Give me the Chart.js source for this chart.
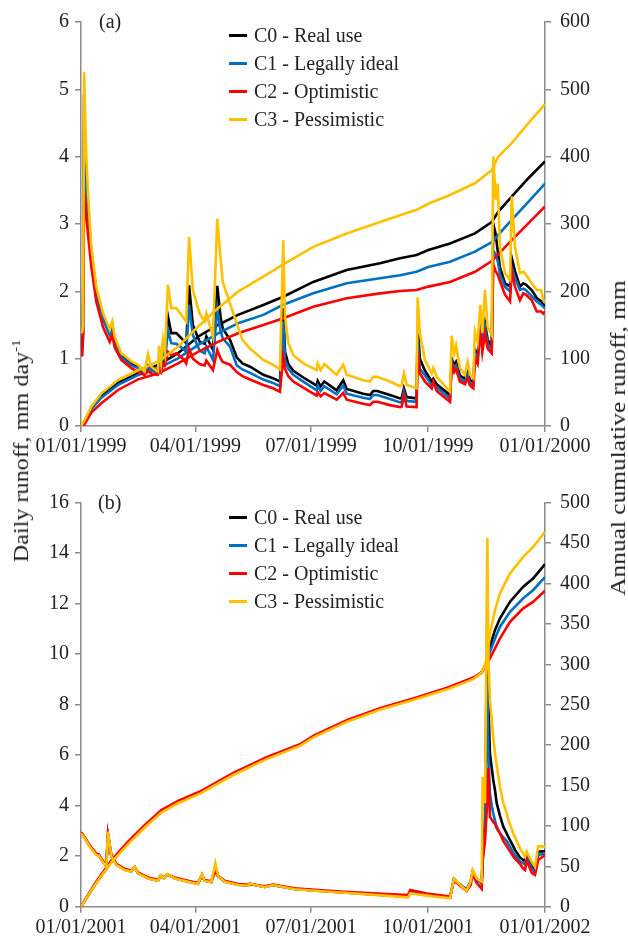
<!DOCTYPE html>
<html>
<head>
<meta charset="utf-8">
<script src="https://cdn.jsdelivr.net/npm/chart.js@4.4.0/dist/chart.umd.min.js"></script>
<style>
  body { margin: 0; background: #fff; }
  #wrap { position: relative; width: 628px; height: 939px; overflow: hidden;
          font-family: "Liberation Serif", "Times New Roman", serif; color: #222; }
  canvas { position: absolute; left: 0; }
  .lg { position: absolute; left: 229px; height: 28px; display: flex; align-items: center;
        font-size: 20px; white-space: nowrap; }
  .lg i { display: inline-block; width: 18px; height: 3px; margin-right: 7px; }
  .tag { position: absolute; font-size: 20px; line-height: 20px; }
  .ttl { position: absolute; font-size: 20px; line-height: 24px; white-space: nowrap; }
  .ttl sup { font-size: 12px; vertical-align: 8px; line-height: 0; }
</style>
</head>
<body>
<div id="wrap">
  <canvas id="chartA" width="628" height="470" style="top:0"></canvas>
  <canvas id="chartB" width="628" height="469" style="top:470px"></canvas>
  <div class="tag" style="left:99px;top:11px">(a)</div>
  <div class="tag" style="left:98px;top:492px">(b)</div>
  <div class="ttl" style="left:21px;top:451px;transform:translate(-50%,-50%) rotate(-90deg) scaleX(1.21)">Daily runoff, mm day<sup>-1</sup></div>
  <div class="ttl" style="left:618px;top:438px;transform:translate(-50%,-50%) rotate(-90deg) scaleX(1.27)">Annual cumulative runoff, mm</div>
</div>
<script>
// legend + ticks
const seriesNames = ["C0 - Real use", "C1 - Legally ideal", "C2 - Optimistic", "C3 - Pessimistic"];
const seriesColors = ["#000000", "#0070C0", "#FF0000", "#FFC000"];
const xTickDays = [0, 90, 181, 273, 365];
const xLabelsA = ["01/01/1999", "04/01/1999", "07/01/1999", "10/01/1999", "01/01/2000"];
const xLabelsB = ["01/01/2001", "04/01/2001", "07/01/2001", "10/01/2001", "01/01/2002"];

// (a) 1999 daily runoff, mm/day (day of year)
const dayA = [0, 1, 1.6, 2.4, 3.3, 4.2, 5.5, 8.1, 12, 17.3,
  22.6, 24.6, 26.5, 31.7, 39.6, 44.8, 50, 52.7, 55.3, 60.5,
  61.4, 63, 64.5, 66, 68.4, 71, 75, 80.2, 82.8, 85,
  88, 93.3, 97.3, 98.6, 103.8, 107.2, 109.9, 111.5, 117.2, 122.5,
  127, 133, 143.4, 151, 156.5, 159.1, 160.5, 163.1, 167, 174.9,
  185.4, 186.2, 188.5, 191.4, 201.1, 206.3, 209, 222, 227.3, 229.9,
  233, 243, 251, 252.3, 254, 256.2, 264, 264.8, 266.6, 270.6,
  275.9, 277.1, 279.8, 290.3, 291.6, 293.6, 295, 298.1, 302, 304.2,
  306, 308.6, 309.9, 312, 314.1, 315.7, 317.8, 319.9, 323.1, 324.3,
  326.2, 327.8, 329.6, 333.5, 337.5, 338.8, 341.4, 345.3, 347.9, 350,
  354.5, 358.5, 362, 363.6, 365];
const c0DailyA = [1.20, 1.25, 1.40, 4.92, 4.10, 3.60, 3.20, 2.60, 2.02, 1.62,
  1.38, 1.50, 1.28, 1.05, 0.93, 0.88, 0.82, 0.90, 0.84, 0.80,
  0.95, 0.90, 1.10, 1.00, 1.63, 1.38, 1.38, 1.28, 1.23, 2.09,
  1.50, 1.25, 1.22, 1.33, 1.13, 2.08, 1.60, 1.45, 1.28, 1.02,
  0.93, 0.88, 0.76, 0.71, 0.66, 1.75, 1.10, 0.92, 0.82, 0.72,
  0.60, 0.67, 0.59, 0.66, 0.53, 0.68, 0.55, 0.48, 0.46, 0.52,
  0.52, 0.46, 0.41, 0.42, 0.56, 0.43, 0.41, 1.47, 1.00, 0.82,
  0.66, 0.70, 0.62, 0.46, 1.00, 0.90, 0.95, 0.75, 0.70, 0.80,
  0.68, 0.66, 1.13, 1.05, 1.57, 1.23, 1.52, 1.28, 1.18, 3.00,
  2.85, 2.60, 2.35, 2.12, 2.07, 2.50, 2.30, 2.07, 2.12, 2.10,
  2.02, 1.90, 1.85, 1.80, 1.78];
const c1DailyA = [1.10, 1.15, 1.30, 4.40, 3.70, 3.30, 3.00, 2.50, 1.97, 1.58,
  1.35, 1.45, 1.25, 1.02, 0.90, 0.86, 0.80, 0.88, 0.82, 0.80,
  0.92, 0.88, 1.23, 0.98, 1.42, 1.23, 1.22, 1.15, 1.10, 1.80,
  1.35, 1.12, 1.08, 1.18, 0.98, 1.75, 1.40, 1.30, 1.18, 0.90,
  0.84, 0.79, 0.69, 0.64, 0.59, 1.55, 0.98, 0.85, 0.76, 0.66,
  0.53, 0.60, 0.52, 0.59, 0.47, 0.60, 0.48, 0.42, 0.40, 0.46,
  0.46, 0.40, 0.35, 0.36, 0.51, 0.37, 0.36, 1.28, 0.85, 0.75,
  0.61, 0.64, 0.57, 0.41, 0.95, 0.86, 0.90, 0.70, 0.66, 0.76,
  0.64, 0.61, 1.08, 1.00, 1.52, 1.18, 1.47, 1.22, 1.13, 2.60,
  2.55, 2.45, 2.25, 2.07, 2.00, 2.35, 2.20, 2.02, 2.04, 2.02,
  1.93, 1.85, 1.80, 1.77, 1.75];
const c2DailyA = [1.05, 1.05, 1.35, 3.46, 3.30, 3.10, 2.85, 2.37, 1.85, 1.47,
  1.25, 1.35, 1.17, 0.98, 0.86, 0.80, 0.76, 0.82, 0.78, 0.76,
  0.85, 0.80, 0.92, 0.90, 1.10, 1.05, 1.08, 1.00, 0.93, 1.15,
  1.00, 0.92, 0.90, 0.97, 0.83, 1.13, 1.00, 0.95, 0.91, 0.80,
  0.74, 0.69, 0.61, 0.56, 0.51, 1.03, 0.85, 0.74, 0.66, 0.57,
  0.45, 0.50, 0.44, 0.49, 0.39, 0.49, 0.39, 0.33, 0.31, 0.36,
  0.36, 0.31, 0.28, 0.29, 0.46, 0.29, 0.28, 1.13, 0.78, 0.66,
  0.56, 0.66, 0.52, 0.36, 0.93, 0.80, 0.85, 0.66, 0.62, 0.71,
  0.60, 0.56, 1.00, 0.92, 1.43, 1.10, 1.38, 1.15, 1.08, 2.40,
  2.30, 2.25, 2.15, 1.95, 1.85, 2.30, 2.07, 1.87, 1.97, 1.95,
  1.87, 1.70, 1.70, 1.67, 1.70];
const c3DailyA = [1.38, 1.40, 1.50, 5.26, 4.60, 4.00, 3.46, 2.66, 2.07, 1.68,
  1.43, 1.55, 1.33, 1.08, 0.96, 0.91, 0.81, 1.07, 0.88, 0.81,
  1.19, 0.95, 1.28, 1.10, 2.10, 1.75, 1.75, 1.62, 1.55, 2.81,
  2.02, 1.67, 1.55, 1.67, 1.33, 3.08, 2.47, 2.14, 1.82, 1.52,
  1.28, 1.15, 0.98, 0.91, 0.84, 2.76, 1.62, 1.23, 1.05, 0.93,
  0.83, 0.93, 0.83, 0.92, 0.76, 0.91, 0.76, 0.68, 0.66, 0.73,
  0.73, 0.66, 0.59, 0.61, 0.78, 0.61, 0.56, 1.91, 1.38, 0.98,
  0.78, 0.86, 0.73, 0.51, 1.34, 1.08, 1.20, 0.86, 0.76, 0.95,
  0.76, 0.71, 1.40, 1.25, 1.80, 1.38, 2.02, 1.47, 1.35, 4.00,
  3.36, 3.60, 2.66, 2.27, 2.17, 3.41, 2.66, 2.27, 2.29, 2.25,
  2.12, 2.02, 2.02, 1.87, 1.85];

// (a) 1999 annual cumulative runoff, mm
const cumDayA = [0, 2.9, 8.1, 16, 29.1, 44.8, 60.6, 76.3, 92, 107.8,
  123.5, 143.4, 159.1, 182.7, 209, 235.2, 251, 264, 273.2, 290.3,
  309.9, 323.1, 328.2, 338.8, 351.9, 365];
const c0CumA = [0, 6.4, 26, 44, 64, 78, 90.6, 108, 132.6, 150,
  165, 179.7, 192, 214, 231.7, 241.6, 249, 254, 261.4, 271,
  286, 303, 318, 340.6, 368, 393];
const c1CumA = [0, 5.5, 25, 42, 61, 75.7, 85.7, 100.5, 120, 137.7,
  152.5, 165, 180, 197, 212, 219.4, 224, 229, 236, 244,
  259, 273, 284, 306, 333, 360];
const c2CumA = [0, 3, 20, 33.7, 53.5, 69.3, 78, 93, 110, 125,
  137.7, 150, 160, 177, 189.6, 197, 200.5, 202, 207, 214,
  229, 245, 255, 276, 301, 326];
const c3CumA = [0, 8.9, 28.7, 48.5, 68.3, 83, 95.5, 117.8, 147.5, 174.8,
  199.5, 221.7, 240, 266, 286, 303, 313, 321, 330, 343,
  360.5, 380, 400, 420, 449.6, 478];

// (b) 2001 daily runoff, mm/day
const dayB = [0, 3, 6.8, 12, 14, 16, 19.9, 21.2, 23.9, 27.8,
  34.3, 39.6, 42.2, 44.8, 52.7, 60.6, 62.7, 65, 67.9, 73.7,
  84.2, 92, 95.2, 97.3, 102.5, 105.7, 107.8, 113, 123.5, 132,
  132.7, 144.5, 151, 168, 186.4, 207.4, 233.6, 257.2, 259, 271.9,
  290.3, 293.4, 295.5, 303.4, 306.5, 308.1, 311.2, 315.2, 316, 317.8,
  319.6, 320.5, 321.7, 323.1, 324.3, 325.7, 327, 329.6, 332.2, 334.9,
  336.1, 340, 341.4, 345.3, 347.9, 349.3, 350.6, 354.5, 355.8, 357.1,
  359.7, 365];
const c0DailyB = [2.93, 2.72, 2.40, 2.07, 2.04, 1.87, 1.60, 2.90, 1.99, 1.67,
  1.47, 1.40, 1.57, 1.33, 1.13, 1.04, 1.23, 1.13, 1.28, 1.13,
  1.00, 0.91, 1.26, 1.03, 0.98, 1.60, 1.22, 1.00, 0.87, 0.84,
  0.91, 0.78, 0.86, 0.70, 0.63, 0.56, 0.48, 0.40, 0.58, 0.48,
  0.36, 1.10, 0.98, 0.68, 0.99, 1.40, 1.10, 0.93, 1.90, 3.50,
  11.5, 8.0, 6.07, 5.50, 5.02, 4.60, 4.10, 3.60, 3.17, 2.90,
  2.77, 2.40, 2.25, 1.95, 1.85, 1.80, 2.11, 1.60, 1.52, 1.39,
  2.18, 2.20];
const c1DailyB = [2.93, 2.72, 2.40, 2.07, 2.04, 1.87, 1.60, 2.85, 1.99, 1.67,
  1.47, 1.40, 1.56, 1.33, 1.13, 1.04, 1.22, 1.13, 1.27, 1.13,
  1.00, 0.91, 1.24, 1.03, 0.98, 1.50, 1.21, 1.00, 0.87, 0.84,
  0.90, 0.78, 0.85, 0.70, 0.63, 0.56, 0.48, 0.40, 0.58, 0.48,
  0.36, 1.08, 0.97, 0.66, 0.97, 1.36, 1.08, 0.93, 1.90, 3.00,
  9.0, 6.0, 4.49, 4.00, 3.70, 3.40, 3.17, 2.90, 2.75, 2.60,
  2.50, 2.15, 2.05, 1.80, 1.72, 1.68, 1.95, 1.50, 1.45, 1.35,
  2.05, 2.10];
const c2DailyB = [2.95, 2.75, 2.43, 2.10, 2.07, 1.90, 1.63, 2.85, 2.02, 1.70,
  1.50, 1.43, 1.55, 1.36, 1.16, 1.07, 1.22, 1.16, 1.27, 1.16,
  1.03, 0.94, 1.24, 1.06, 1.01, 1.40, 1.22, 1.03, 0.90, 0.87,
  0.90, 0.81, 0.88, 0.73, 0.66, 0.59, 0.52, 0.46, 0.66, 0.52,
  0.40, 1.05, 0.95, 0.62, 0.86, 1.30, 0.95, 0.71, 1.85, 2.60,
  4.20, 5.50, 3.56, 3.45, 3.35, 3.30, 3.10, 2.91, 2.60, 2.40,
  2.30, 2.00, 1.90, 1.70, 1.50, 1.45, 1.85, 1.35, 1.30, 1.26,
  1.85, 2.05];
const c3DailyB = [2.91, 2.71, 2.38, 2.05, 2.02, 1.85, 1.58, 2.97, 1.98, 1.65,
  1.45, 1.39, 1.58, 1.32, 1.12, 1.03, 1.24, 1.12, 1.29, 1.12,
  0.99, 0.90, 1.29, 1.02, 0.97, 1.72, 1.22, 0.99, 0.86, 0.83,
  0.92, 0.77, 0.86, 0.69, 0.62, 0.55, 0.46, 0.37, 0.53, 0.44,
  0.33, 1.12, 0.99, 0.63, 0.99, 1.45, 1.12, 0.99, 5.15, 4.10,
  14.6, 9.8, 8.2, 7.39, 6.70, 6.07, 5.60, 4.75, 4.10, 3.70,
  3.45, 2.91, 2.75, 2.31, 2.10, 1.98, 2.18, 1.78, 1.68, 1.58,
  2.40, 2.38];

// (b) 2001 annual cumulative runoff, mm
const cumDayB = [0, 10.8, 23.9, 37, 50.1, 63.2, 76.3, 93.6, 119.8, 146,
  172.3, 183.3, 209.5, 235.7, 262, 288.1, 309.1, 315.2, 319.4, 321.7,
  325.7, 329.6, 337.5, 347.9, 355.8, 365];
const c0CumB = [0, 26.9, 55.7, 78.5, 99, 117.6, 129, 141, 164, 183.7,
  200, 211, 230, 245, 257, 270, 283, 290, 303, 321.8,
  342.5, 357, 377.5, 396, 406.4, 424];
const c1CumB = [0, 26.9, 55.7, 78.5, 99, 117.6, 129, 141, 164, 183.7,
  200, 211, 230, 245, 257, 270, 283, 290, 303, 315.6,
  332, 346.5, 365, 381.7, 392, 408];
const c2CumB = [0, 28, 57.5, 80.5, 101, 119.5, 131, 142.5, 165.5, 185,
  201, 212, 231, 246, 258, 271, 284, 290, 302, 307.4,
  319.8, 332, 352.7, 369.3, 377.5, 391];
const c3CumB = [0, 26.5, 55, 77.5, 98, 116.5, 128, 140, 163, 182.7,
  199, 210, 229, 244, 256, 269, 282, 290, 305, 338,
  367, 388, 412.6, 433, 445.5, 464];

const axisColor = "#8a8a8a";
const textColor = "#222";
Chart.defaults.font.family = '"Liberation Serif", "Times New Roman", serif';
Chart.defaults.font.size = 20;
Chart.defaults.color = textColor;

function pts(days, vals) {
  return days.map((d, i) => ({ x: d, y: vals[i] }));
}

function line(days, vals, k, axis) {
  return {
    data: pts(days, vals),
    yAxisID: axis,
    borderColor: seriesColors[k],
    borderWidth: 2.6,
    pointRadius: 0,
    fill: false,
    tension: 0,
    order: 3 - k   // C3 drawn on top
  };
}

function axisGrid() {
  return { drawOnChartArea: false, drawTicks: true, tickLength: 6, color: axisColor, lineWidth: 1.5 };
}

function makePanel(id, datasets, xLabels, yMax, yStep, y2Max, y2Step, padTop, xHeight) {
  new Chart(document.getElementById(id), {
    type: "line",
    data: { datasets },
    options: {
      responsive: false,
      animation: false,
      layout: { padding: { top: padTop, left: 0, right: 0, bottom: 0 } },
      plugins: { legend: { display: false }, tooltip: { enabled: false } },
      scales: {
        x: {
          type: "linear", min: 0, max: 365,
          afterBuildTicks: s => { s.ticks = xTickDays.map(v => ({ value: v })); },
          afterFit: s => { s.height = xHeight; },
          ticks: { autoSkip: false, maxRotation: 0, padding: 3, callback: (v, i) => xLabels[i] },
          grid: axisGrid(),
          border: { color: axisColor, width: 1.5 }
        },
        y: {
          position: "left", min: 0, max: yMax,
          afterFit: s => { s.width = 81; },
          ticks: { stepSize: yStep, padding: 6 },
          grid: axisGrid(),
          border: { color: axisColor, width: 1.5 }
        },
        y2: {
          position: "right", min: 0, max: y2Max,
          afterFit: s => { s.width = 83; },
          ticks: { stepSize: y2Step, padding: 9 },
          grid: axisGrid(),
          border: { color: axisColor, width: 1.5 }
        }
      }
    }
  });
}

makePanel("chartA", [
  line(dayA, c0DailyA, 0, "y"), line(dayA, c1DailyA, 1, "y"),
  line(dayA, c2DailyA, 2, "y"), line(dayA, c3DailyA, 3, "y"),
  line(cumDayA, c0CumA, 0, "y2"), line(cumDayA, c1CumA, 1, "y2"),
  line(cumDayA, c2CumA, 2, "y2"), line(cumDayA, c3CumA, 3, "y2")
], xLabelsA, 6, 1, 600, 100, 22, 44);

makePanel("chartB", [
  line(dayB, c0DailyB, 0, "y"), line(dayB, c1DailyB, 1, "y"),
  line(dayB, c2DailyB, 2, "y"), line(dayB, c3DailyB, 3, "y"),
  line(cumDayB, c0CumB, 0, "y2"), line(cumDayB, c1CumB, 1, "y2"),
  line(cumDayB, c2CumB, 2, "y2"), line(cumDayB, c3CumB, 3, "y2")
], xLabelsB, 16, 2, 500, 50, 32.7, 32.3);

// legends inside each panel
const wrap = document.getElementById("wrap");
[21, 503].forEach(top0 => {
  seriesNames.forEach((name, k) => {
    const row = document.createElement("div");
    row.className = "lg";
    row.style.top = (top0 + k * 28) + "px";
    row.innerHTML = '<i style="background:' + seriesColors[k] + '"></i>' + name;
    wrap.appendChild(row);
  });
});
</script>
</body>
</html>
